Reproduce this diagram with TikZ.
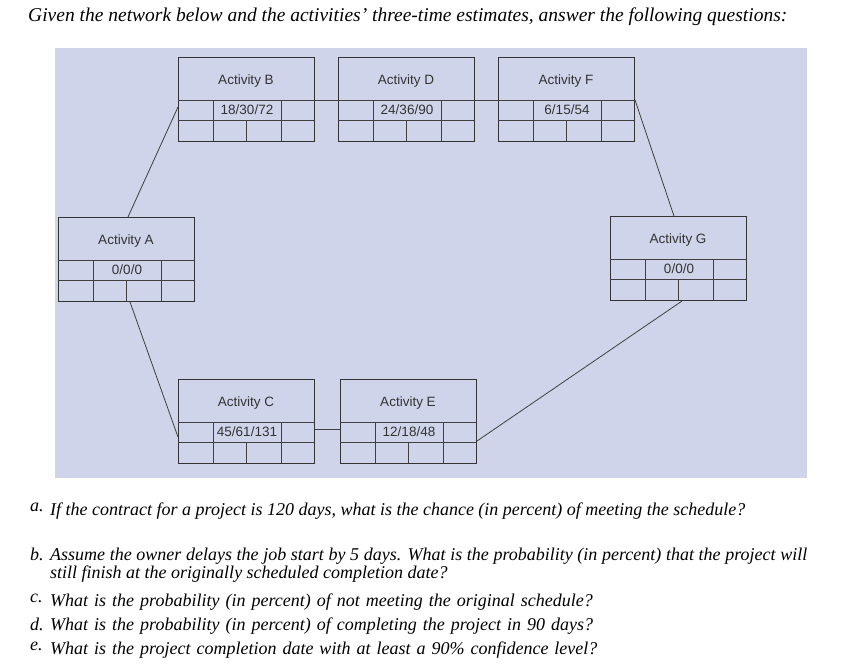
\documentclass[tikz,border=0pt]{standalone}
\usepackage{fontspec}
\usetikzlibrary{calc}
\setmainfont{Liberation Serif}
\newfontfamily\boxfont{Liberation Sans}
\definecolor{bgc}{RGB}{208,212,234}
\begin{document}
\begin{tikzpicture}[x=1pt,y=-1pt,
  bx/.style={draw=black!80,line width=1pt,fill=none,minimum width=136pt,minimum height=84pt,inner sep=0pt,anchor=north west},
  ln/.style={draw=black!75,line width=0.8pt},
  bt/.style={font=\boxfont\fontsize{13.5}{15}\selectfont,text=black!80},
  ql/.style={anchor=north west,font=\itshape\fontsize{18}{18}\selectfont,inner sep=0pt},
  q/.style={anchor=north west,align=justify,text width=757pt,font=\itshape\fontsize{18}{18}\selectfont,inner sep=0pt}]
\useasboundingbox (0,0) rectangle (865,667);
\fill[bgc] (55,48) rectangle (807,478);
\node[anchor=west,font=\itshape\fontsize{19.5}{20}\selectfont,inner sep=0pt] (title) at (28,17) {Given the network below and the activities' three-time estimates, answer the following questions:};
\newcommand\actbox[5]{%
  \node[bx] (#1) at (#2,#3) {};
  \draw[ln] ($(#1.north west)+(0,43)$) -- ++(136,0) coordinate (#1r1);
  \draw[ln] ($(#1.north west)+(0,63)$) -- ++(136,0) coordinate (#1r2);
  \draw[ln] ($(#1.north west)+(35,43)$) -- ++(0,41);
  \draw[ln] ($(#1.north west)+(103,43)$) -- ++(0,41);
  \draw[ln] ($(#1.north west)+(68,63)$) -- ++(0,21);
  \node[bt] (#1t) at ($(#1.north west)+(68,24)$) {#4};
  \node[bt] (#1e) at ($(#1.north west)+(69,53)$) {#5};
}
\actbox{A}{58}{217}{Activity A}{0/0/0}
\actbox{B}{178}{57}{Activity B}{18/30/72}
\actbox{D}{338}{57}{Activity D}{24/36/90}
\actbox{F}{498}{57}{Activity F}{6/15/54}
\actbox{G}{610}{216}{Activity G}{0/0/0}
\actbox{C}{178}{379}{Activity C}{45/61/131}
\actbox{E}{340}{379}{Activity E}{12/18/48}
\draw[ln] ($(A.north west)+(70,0)$) -- ($(B.north west)+(0,50)$);
\draw[ln] ($(B.north east)+(0,43)$) -- ($(D.north west)+(0,43)$);
\draw[ln] ($(D.north east)+(0,43)$) -- ($(F.north west)+(0,43)$);
\draw[ln] ($(F.north east)+(0,43)$) -- ($(G.north west)+(64,0)$);
\draw[ln] ($(A.south west)+(72,0)$) -- ($(C.north west)+(0,58)$);
\draw[ln] ($(C.north east)+(0,50)$) -- ($(E.north west)+(0,50)$);
\draw[ln] ($(E.north east)+(0,62)$) -- ($(G.south west)+(72,0)$);
\node[ql] (la) at (30,503) {a.};
\node[q] (qa) at (50,503) {If the contract for a project is 120 days, what is the chance (in percent) of meeting the schedule?};
\node[ql] (lb) at (30,548) {b.};
\node[q] (qb) at (50,548) {Assume the owner delays the job start by 5 days. What is the probability (in percent) that the project will still finish at the originally scheduled completion date?};
\node[ql] (lc) at (30,594) {c.};
\node[q,align=left] (qc) at (50,594) {What is the probability (in percent) of not meeting the original schedule?};
\node[ql] (ld) at (30,618) {d.};
\node[q,align=left] (qd) at (50,618) {What is the probability (in percent) of completing the project in 90 days?};
\node[ql] (le) at (30,642) {e.};
\node[q,align=left] (qe) at (50,642) {What is the project completion date with at least a 90\% confidence level?};
\end{tikzpicture}
\end{document}
